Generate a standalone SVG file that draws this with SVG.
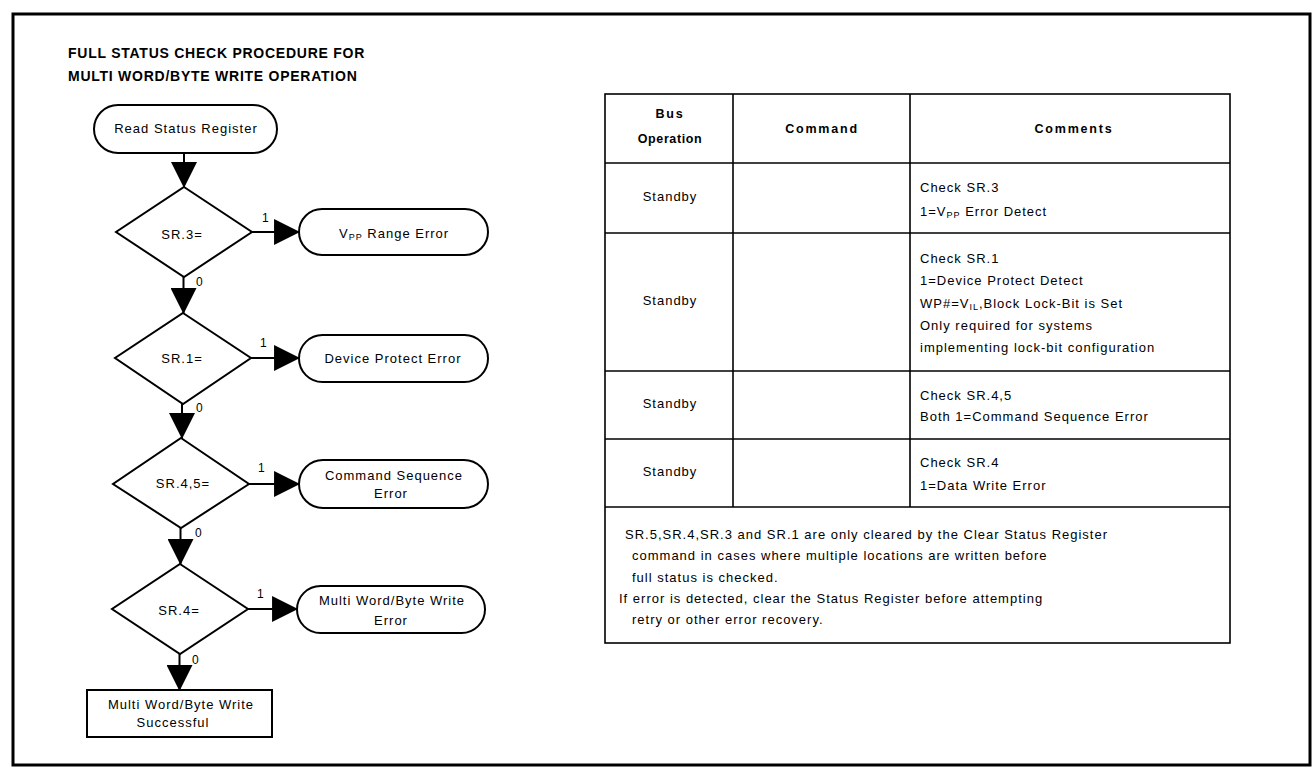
<svg xmlns="http://www.w3.org/2000/svg" width="1314" height="768" viewBox="0 0 1314 768">
<style>
text{font-family:"Liberation Sans",Arial,Helvetica,sans-serif;fill:#000}
.t{font-size:13px;letter-spacing:1px}
.c{text-anchor:middle}
.title{font-size:14px;font-weight:bold;letter-spacing:0.75px}
.hd{font-size:12.5px;font-weight:bold;letter-spacing:1.8px;text-anchor:middle}
.lbl{font-size:12px}
.sub{font-size:9px}
.shape{fill:#fff;stroke:#000;stroke-width:2}
.ln{fill:none;stroke:#000;stroke-width:2}
.tb{fill:none;stroke:#000;stroke-width:1.6}
</style>
<defs>
<marker id="ah" markerUnits="userSpaceOnUse" markerWidth="26" markerHeight="26" viewBox="0 0 25 25" refX="24" refY="12.5" orient="auto">
<path d="M0,0 L25,12.5 L0,25 Z" fill="#000"/>
</marker>
</defs>
<rect width="1314" height="768" fill="#fff"/>
<rect x="13" y="14" width="1297" height="751" fill="none" stroke="#000" stroke-width="3"/>

<text class="title" x="68" y="58">FULL STATUS CHECK PROCEDURE FOR</text>
<text class="title" x="68" y="81">MULTI WORD/BYTE WRITE OPERATION</text>

<g id="connectors">
<line class="ln" x1="184" y1="153" x2="184" y2="187" marker-end="url(#ah)"/>
<line class="ln" x1="183.5" y1="277" x2="183.5" y2="313" marker-end="url(#ah)"/>
<line class="ln" x1="182" y1="404" x2="182" y2="438" marker-end="url(#ah)"/>
<line class="ln" x1="180.5" y1="528" x2="180.5" y2="564" marker-end="url(#ah)"/>
<line class="ln" x1="179.5" y1="654" x2="179.5" y2="690" marker-end="url(#ah)"/>
<line class="ln" x1="252" y1="232" x2="299" y2="232" marker-end="url(#ah)"/>
<line class="ln" x1="251" y1="358" x2="299" y2="358" marker-end="url(#ah)"/>
<line class="ln" x1="249" y1="484" x2="299" y2="484" marker-end="url(#ah)"/>
<line class="ln" x1="248" y1="609" x2="297" y2="609" marker-end="url(#ah)"/>
<text class="lbl" x="262" y="222">1</text>
<text class="lbl" x="260" y="347">1</text>
<text class="lbl" x="258" y="472">1</text>
<text class="lbl" x="257" y="598">1</text>
<text class="lbl" x="196" y="286">0</text>
<text class="lbl" x="196" y="412">0</text>
<text class="lbl" x="195" y="537">0</text>
<text class="lbl" x="192" y="664">0</text>
</g>

<g id="n-read">
<rect class="shape" x="94" y="105" width="183" height="48" rx="24"/>
<text class="t c" x="186" y="133">Read Status Register</text>
</g>

<g id="n-sr3">
<polygon class="shape" points="184,187 252,232 184,277 116,232"/>
<text class="t c" x="182" y="239">SR.3=</text>
</g>
<g id="n-vpp">
<rect class="shape" x="299" y="209" width="189" height="46" rx="23"/>
<text class="t" x="339" y="238">V<tspan class="sub" dy="2">PP</tspan><tspan dy="-2"> Range Error</tspan></text>
</g>

<g id="n-sr1">
<polygon class="shape" points="183,313 251,358 183,404 115,358"/>
<text class="t c" x="182" y="363">SR.1=</text>
</g>
<g id="n-dpe">
<rect class="shape" x="299" y="335" width="189" height="47" rx="23.5"/>
<text class="t c" x="393" y="363">Device Protect Error</text>
</g>

<g id="n-sr45">
<polygon class="shape" points="181,438 249,484 181,528 113,484"/>
<text class="t c" x="183" y="488">SR.4,5=</text>
</g>
<g id="n-cse">
<rect class="shape" x="299" y="460" width="189" height="48" rx="24"/>
<text class="t c" x="394" y="480">Command Sequence</text>
<text class="t c" x="391" y="498">Error</text>
</g>

<g id="n-sr4">
<polygon class="shape" points="180,564 248,609 180,654 112,609"/>
<text class="t c" x="179" y="615">SR.4=</text>
</g>
<g id="n-mwe">
<rect class="shape" x="297" y="586" width="188" height="47" rx="23.5"/>
<text class="t c" x="392" y="605">Multi Word/Byte Write</text>
<text class="t c" x="391" y="625">Error</text>
</g>

<g id="n-success">
<rect class="shape" x="87" y="690" width="185" height="47" stroke-width="1.6"/>
<text class="t c" x="181" y="709">Multi Word/Byte Write</text>
<text class="t c" x="173" y="727">Successful</text>
</g>

<g id="table">
<rect class="tb" x="605" y="94" width="625" height="549"/>
<line class="tb" x1="605" y1="163" x2="1230" y2="163"/>
<line class="tb" x1="605" y1="233" x2="1230" y2="233"/>
<line class="tb" x1="605" y1="371" x2="1230" y2="371"/>
<line class="tb" x1="605" y1="439" x2="1230" y2="439"/>
<line class="tb" x1="605" y1="507" x2="1230" y2="507"/>
<line class="tb" x1="733" y1="94" x2="733" y2="507"/>
<line class="tb" x1="910" y1="94" x2="910" y2="507"/>
<text class="hd" x="670" y="118">Bus</text>
<text class="hd" x="670" y="143" style="letter-spacing:0.6px">Operation</text>
<text class="hd" x="822" y="133">Command</text>
<text class="hd" x="1074" y="133">Comments</text>

<text class="t c" x="670" y="201">Standby</text>
<text class="t c" x="670" y="305">Standby</text>
<text class="t c" x="670" y="408">Standby</text>
<text class="t c" x="670" y="476">Standby</text>

<text class="t" x="920" y="192">Check SR.3</text>
<text class="t" x="920" y="216">1=V<tspan class="sub" dy="2">PP</tspan><tspan dy="-2"> Error Detect</tspan></text>

<text class="t" x="920" y="263">Check SR.1</text>
<text class="t" x="920" y="285">1=Device Protect Detect</text>
<text class="t" x="920" y="308">WP#=V<tspan class="sub" dy="2">IL</tspan><tspan dy="-2">,Block Lock-Bit is Set</tspan></text>
<text class="t" x="920" y="330">Only required for systems</text>
<text class="t" x="920" y="352">implementing lock-bit configuration</text>

<text class="t" x="920" y="400">Check SR.4,5</text>
<text class="t" x="920" y="421">Both 1=Command Sequence Error</text>

<text class="t" x="920" y="467">Check SR.4</text>
<text class="t" x="920" y="490">1=Data Write Error</text>

<text class="t" x="625" y="539">SR.5,SR.4,SR.3 and SR.1 are only cleared by the Clear Status Register</text>
<text class="t" x="632" y="560">command in cases where multiple locations are written before</text>
<text class="t" x="632" y="582">full status is checked.</text>
<text class="t" x="619" y="603">If error is detected, clear the Status Register before attempting</text>
<text class="t" x="632" y="624">retry or other error recovery.</text>
</g>
</svg>
